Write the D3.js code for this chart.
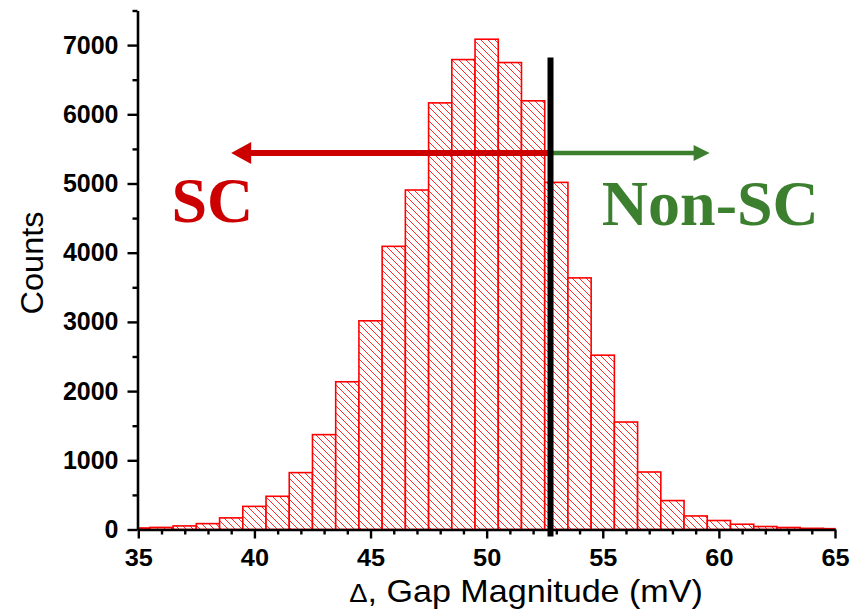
<!DOCTYPE html>
<html>
<head>
<meta charset="utf-8">
<script src="https://cdn.jsdelivr.net/npm/d3@7/dist/d3.min.js"></script>
<style>
  html, body { margin: 0; padding: 0; background: #fff; }
  svg { display: block; }
</style>
</head>
<body>
<svg id="chart" width="862" height="610"></svg>
<script>
// ---- data ----
const binCenters = [35,36,37,38,39,40,41,42,43,44,45,46,47,48,49,50,51,52,53,54,55,56,57,58,59,60,61,62,63,64,65];
const counts     = [22,30,52,85,168,334,480,822,1371,2135,3016,4092,4906,6165,6791,7085,6748,6195,5016,3636,2519,1553,831,418,196,130,76,43,29,17,12];
const xTicks = [35,40,45,50,55,60,65];
const xMinorTicks = [36,37,38,39,41,42,43,44,46,47,48,49,51,52,53,54,56,57,58,59,61,62,63,64];
const yTicks = [0,1000,2000,3000,4000,5000,6000,7000];
const yMinorTicks = [500,1500,2500,3500,4500,5500,6500,7500];
const threshold = 52.75;          // SC / Non-SC boundary (mV)
const arrowLevel = 5440;          // counts level of the arrows
const scArrowTip = 39;            // mV
const nonScArrowTip = 59.6;       // mV
const xTitle = ", Gap Magnitude (mV)";
const yTitle = "Counts";

// ---- layout ----
const svg = d3.select("#chart");
const x = d3.scaleLinear().domain([35, 65]).range([138.3, 835]);
const y = d3.scaleLinear().domain([0, 7500]).range([529.5, 10.5]);

const defs = svg.append("defs");
const pat = defs.append("pattern").attr("id", "hatch")
  .attr("patternUnits", "userSpaceOnUse").attr("width", 7).attr("height", 7);
pat.append("rect").attr("width", 7).attr("height", 7).attr("fill", "#fff");
pat.append("path").attr("d", "M-1,-1 L8,8 M-1,6 L1,8 M6,-1 L8,1")
  .attr("stroke", "#ff2a2a").attr("stroke-width", 1).attr("fill", "none");

// ---- bars ----
const bins = binCenters.map((c, i) => ({
  x0: Math.max(35, c - 0.5), x1: Math.min(65, c + 0.5), v: counts[i]
}));
svg.append("g").selectAll("rect").data(bins).join("rect")
  .attr("x", d => x(d.x0))
  .attr("width", d => x(d.x1) - x(d.x0))
  .attr("y", d => y(d.v))
  .attr("height", d => y(0) - y(d.v))
  .attr("fill", "url(#hatch)")
  .attr("stroke", "#ff0000")
  .attr("stroke-width", 1.6);

// ---- axes ----
function styleAxis(g) {
  g.selectAll("path.domain").attr("stroke", "#000").attr("stroke-width", 2.6);
  g.selectAll(".tick line").attr("stroke", "#000").attr("stroke-width", 2.4);
}
const gx = svg.append("g").attr("transform", `translate(0,${y(0)})`)
  .call(d3.axisBottom(x).tickValues(xTicks).tickSize(9).tickSizeOuter(0).tickPadding(11)
        .tickFormat(d3.format("d")));
styleAxis(gx);
gx.selectAll(".tick text")
  .attr("font-family", "Liberation Sans, Arial, sans-serif")
  .attr("font-weight", "bold").attr("font-size", 23).attr("fill", "#000")
  .attr("transform", "scale(1.1,1)");
const gxm = svg.append("g").attr("transform", `translate(0,${y(0)})`)
  .call(d3.axisBottom(x).tickValues(xMinorTicks).tickSize(5).tickSizeOuter(0).tickFormat(""));
gxm.select("path.domain").remove();
styleAxis(gxm);

const gy = svg.append("g").attr("transform", `translate(${x(35) - 0.8},0)`)
  .call(d3.axisLeft(y).tickValues(yTicks).tickSize(10).tickSizeOuter(0).tickPadding(9)
        .tickFormat(d3.format("d")));
styleAxis(gy);
gy.selectAll(".tick text")
  .attr("font-family", "Liberation Sans, Arial, sans-serif")
  .attr("font-weight", "bold").attr("font-size", 25).attr("fill", "#000");
const gym = svg.append("g").attr("transform", `translate(${x(35) - 0.8},0)`)
  .call(d3.axisLeft(y).tickValues(yMinorTicks).tickSize(5).tickSizeOuter(0).tickFormat(""));
gym.select("path.domain").remove();
styleAxis(gym);

// ---- axis titles ----
const xt = svg.append("text")
  .attr("transform", "translate(526,601.5) scale(1.1,1)")
  .attr("text-anchor", "middle")
  .attr("font-family", "Liberation Sans, Arial, sans-serif")
  .attr("font-size", 31).attr("fill", "#000");
xt.append("tspan").style("font-size", "25px").text("\u0394");
xt.append("tspan").text(xTitle);

svg.append("text")
  .attr("transform", "translate(43,263) rotate(-90) scale(1.05,1)")
  .attr("text-anchor", "middle")
  .attr("font-family", "Liberation Sans, Arial, sans-serif")
  .attr("font-size", 31).attr("fill", "#000")
  .text(yTitle);

// ---- arrows ----
const ya = y(arrowLevel);
const redCol = "#cc0000", greenCol = "#3b7f2f";
svg.append("line")
  .attr("x1", x(threshold)).attr("x2", x(scArrowTip) + 18)
  .attr("y1", ya).attr("y2", ya)
  .attr("stroke", redCol).attr("stroke-width", 6);
svg.append("path")
  .attr("d", `M${x(scArrowTip)},${ya} L${x(scArrowTip) + 20},${ya - 11} L${x(scArrowTip) + 20},${ya + 11} Z`)
  .attr("fill", redCol);
svg.append("line")
  .attr("x1", x(threshold)).attr("x2", x(nonScArrowTip) - 14)
  .attr("y1", ya).attr("y2", ya)
  .attr("stroke", greenCol).attr("stroke-width", 4.5);
svg.append("path")
  .attr("d", `M${x(nonScArrowTip)},${ya} L${x(nonScArrowTip) - 16},${ya - 8} L${x(nonScArrowTip) - 16},${ya + 8} Z`)
  .attr("fill", greenCol);

// ---- threshold line ----
svg.append("line")
  .attr("x1", x(threshold)).attr("x2", x(threshold))
  .attr("y1", y(6820)).attr("y2", y(-100))
  .attr("stroke", "#000").attr("stroke-width", 6);

// ---- labels ----
svg.append("text")
  .attr("x", x(36.43)).attr("y", y(4440))
  .attr("font-family", "Liberation Serif, 'Times New Roman', serif")
  .attr("font-weight", "bold").attr("font-size", 64).attr("fill", redCol)
  .text("SC");
svg.append("text")
  .attr("x", x(54.96)).attr("y", y(4405))
  .attr("font-family", "Liberation Serif, 'Times New Roman', serif")
  .attr("font-weight", "bold").attr("font-size", 64).attr("fill", greenCol)
  .text("Non-SC");
</script>
</body>
</html>
